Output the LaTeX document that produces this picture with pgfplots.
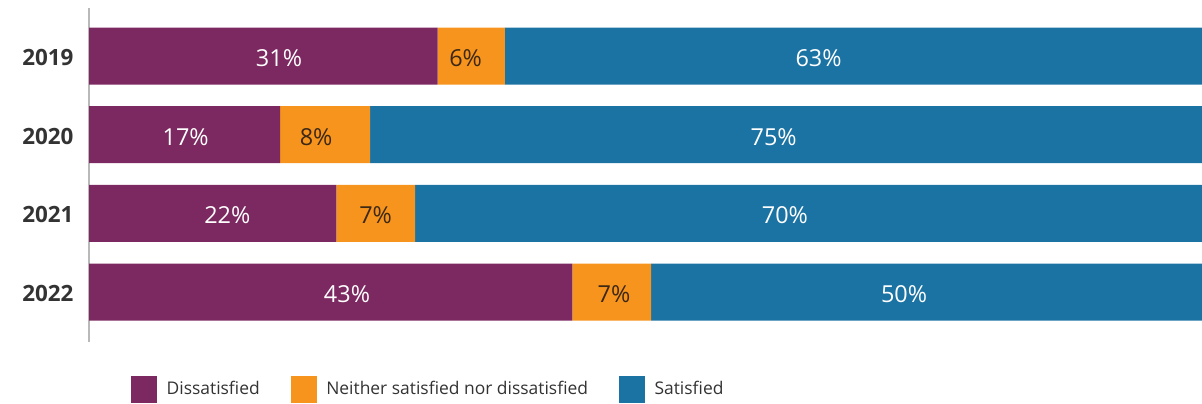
\documentclass[border=0pt]{standalone}
\usepackage{pgfplots}
\pgfplotsset{compat=1.18}
\usepackage{fontspec}
\setmainfont{Open Sans}
\definecolor{cpurple}{RGB}{124,40,97}
\definecolor{corange}{RGB}{246,148,30}
\definecolor{cblue}{RGB}{27,115,164}
\definecolor{ctext}{RGB}{51,51,51}
\definecolor{clab}{RGB}{60,40,20}
\begin{document}
\begin{tikzpicture}
\begin{axis}[
  name=main,
  scale only axis, width=1113bp, height=334bp,
  xbar stacked, bar width=57bp,
  xmin=0, xmax=99, ymin=-0.61, ymax=3.634, y dir=reverse,
  axis x line=none, axis y line=left,
  y axis line style={-, draw=gray!55, line width=1.5bp},
  ytick={0,1,2,3}, yticklabels={2019,2020,2021,2022},
  yticklabel style={font=\fontsize{22.5}{26}\selectfont\bfseries, text=ctext, xshift=-12bp, yshift=-1.5bp},
  major tick length=0pt, tick style={draw=none},
  area legend,
  legend image code/.code={\fill[#1] (0bp,-13.5bp) rectangle (26bp,13.5bp);},
  legend columns=3,
  legend style={at={(0.0377,-0.1407)}, anchor=west, draw=none, fill=none,
    inner sep=0pt, font=\fontsize{17.5}{21}\selectfont, text=ctext,
    /tikz/every odd column/.append style={column sep=7.5bp},
    /tikz/every even column/.append style={column sep=29bp}},
  legend cell align=left,
]
\addplot[fill=cpurple, draw=none] coordinates {(31,0) (17,1) (22,2) (43,3)};
\addlegendentry{Dissatisfied}
\addplot[fill=corange, draw=none] coordinates {(6,0) (8,1) (7,2) (7,3)};
\addlegendentry{Neither satisfied nor dissatisfied}
\addplot[fill=cblue, draw=none] coordinates {(63,0) (75,1) (70,2) (50,3)};
\addlegendentry{Satisfied}
\end{axis}
\begin{axis}[
  scale only axis, width=1113bp, height=334bp,
  xmin=0, xmax=99, ymin=-0.61, ymax=3.634, y dir=reverse,
  hide axis, clip=false,
  nodes near coords={\pgfplotspointmeta\%},
  point meta=explicit symbolic,
]
\addplot[draw=none, mark=none, nodes near coords style={anchor=center, text=white, font=\fontsize{23.5}{27}\selectfont, yshift=-2bp}]
  table[meta=label] {
x y label
16.9 0 31
8.6 1 17
12.3 2 22
22.95 3 43
64.9 0 63
60.9 1 75
61.9 2 70
72.5 3 50
};
\addplot[draw=none, mark=none, nodes near coords style={anchor=center, text=clab, font=\fontsize{23.5}{27}\selectfont, yshift=-2bp}]
  table[meta=label] {
x y label
33.5 0 6
20.2 1 8
25.5 2 7
46.7 3 7
};
\end{axis}
\path[use as bounding box] ([xshift=-89bp,yshift=-61bp]main.south west) rectangle ([yshift=8bp]main.north east);
\end{tikzpicture}
\end{document}
